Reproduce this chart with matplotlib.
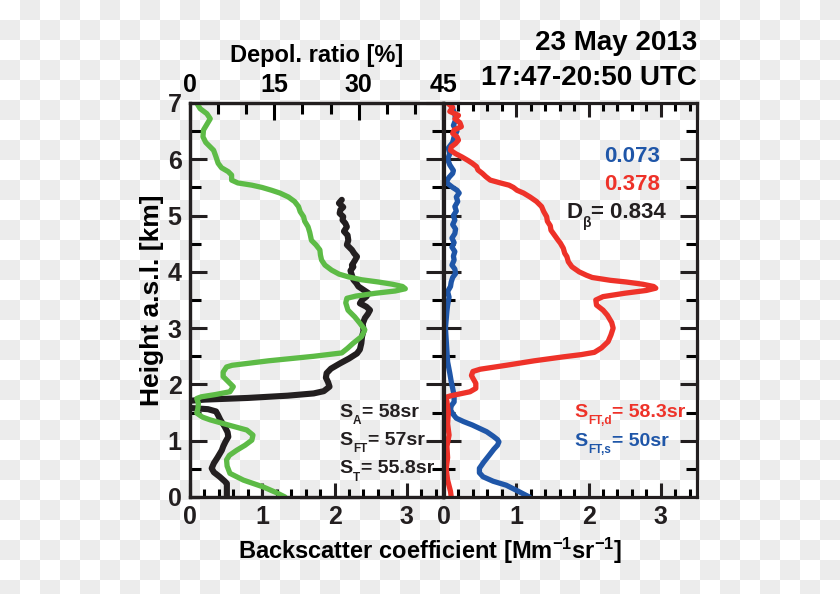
import numpy as np
import matplotlib
matplotlib.use("Agg")
import matplotlib.pyplot as plt
from matplotlib.ticker import MultipleLocator

plt.rcParams["font.family"] = ["Liberation Sans", "DejaVu Sans"]
plt.rcParams["font.weight"] = "bold"
plt.rcParams["mathtext.fontset"] = "custom"
plt.rcParams["mathtext.rm"] = "Liberation Sans:bold"
plt.rcParams["mathtext.it"] = "Liberation Sans:bold"
plt.rcParams["mathtext.bf"] = "Liberation Sans:bold"
plt.rcParams["mathtext.default"] = "rm"

# --- datos ---
# panel izquierdo: retrodispersión total (negro) y razón de despolarización (verde, %)
h_total = [5.28, 5.22, 5.15, 5.10, 5.04, 4.98, 4.92, 4.86, 4.80, 4.72, 4.65, 4.56, 4.48, 4.39,
           4.33, 4.27, 4.20, 4.12, 4.09, 4.02, 3.94, 3.86, 3.80, 3.74, 3.68, 3.62, 3.56, 3.50,
           3.44, 3.38, 3.32, 3.25, 3.18, 3.08, 2.95, 2.85, 2.73, 2.62, 2.55, 2.46, 2.37, 2.28,
           2.20, 2.12, 2.04, 1.96, 1.88, 1.84, 1.80, 1.76, 1.73, 1.70, 1.65, 1.60, 1.58, 1.56,
           1.52, 1.45, 1.37, 1.25, 1.15, 1.07, 0.98, 0.90, 0.83, 0.70, 0.60, 0.51, 0.44, 0.36,
           0.28, 0.24, 0.10, 0.0]
b_total = [2.10, 2.06, 2.12, 2.08, 2.07, 2.12, 2.11, 2.15, 2.17, 2.13, 2.18, 2.19, 2.17, 2.24,
           2.27, 2.31, 2.28, 2.24, 2.26, 2.22, 2.24, 2.26, 2.30, 2.33, 2.40, 2.47, 2.44, 2.38,
           2.35, 2.44, 2.49, 2.46, 2.42, 2.39, 2.40, 2.38, 2.37, 2.35, 2.31, 2.20, 2.07, 1.95,
           1.89, 1.88, 1.91, 1.93, 1.85, 1.71, 1.35, 0.80, 0.20, -0.10, -0.15, -0.05, 0.02, 0.25,
           0.36, 0.39, 0.42, 0.48, 0.52, 0.53, 0.49, 0.46, 0.44, 0.38, 0.33, 0.30, 0.33, 0.41,
           0.48, 0.51, 0.51, 0.51]

h_depol = [7.05, 6.90, 6.81, 6.72, 6.62, 6.52, 6.40, 6.30, 6.22, 6.16, 6.05, 5.93, 5.85, 5.78,
           5.72, 5.63, 5.58, 5.54, 5.50, 5.45, 5.40, 5.33, 5.25, 5.16, 5.07, 4.98, 4.90, 4.80,
           4.70, 4.56, 4.48, 4.39, 4.30, 4.21, 4.12, 4.03, 3.96, 3.91, 3.86, 3.82, 3.78, 3.74,
           3.70, 3.66, 3.62, 3.57, 3.53, 3.45, 3.32, 3.20, 3.09, 2.97, 2.85, 2.73, 2.64, 2.56,
           2.50, 2.42, 2.34, 2.31, 2.22, 2.14, 2.05, 1.96, 1.87, 1.82, 1.78, 1.75, 1.66, 1.57,
           1.49, 1.42, 1.37, 1.28, 1.19, 1.10, 1.01, 0.92, 0.83, 0.74, 0.66, 0.55, 0.42, 0.30,
           0.18, 0.08, 0.0]
depol = [0.9, 1.8, 3.0, 3.6, 3.0, 2.4, 2.3, 2.8, 3.6, 4.2, 4.6, 5.0, 5.6, 6.8,
         7.4, 7.4, 8.5, 11.0, 12.8, 14.5, 16.0, 17.5, 18.6, 19.3, 19.6, 20.2, 20.4, 21.0,
         21.3, 21.6, 22.4, 23.1, 23.2, 23.4, 24.0, 25.2, 26.5, 28.2, 30.5, 33.5, 36.0, 37.8,
         38.3, 36.5, 33.0, 29.5, 27.9, 27.7, 28.1, 29.3, 30.2, 31.1, 30.5, 29.0, 28.0, 27.0,
         22.0, 14.0, 7.5, 6.5, 5.9, 5.9, 6.8, 7.7, 7.1, 4.5, 2.0, 1.2, 1.5, 1.4,
         1.2, 2.2, 3.6, 6.8, 10.1, 11.2, 11.0, 9.8, 8.3, 7.0, 6.5, 6.6, 7.1, 9.5,
         13.0, 15.3, 16.9]

# panel derecho: polvo (rojo) y humo (azul)
h_dust = [7.0, 6.92, 6.85, 6.78, 6.72, 6.65, 6.58, 6.52, 6.46, 6.40, 6.34, 6.28, 6.22, 6.16,
          6.10, 6.04, 5.98, 5.93, 5.87, 5.81, 5.75, 5.69, 5.63, 5.58, 5.54, 5.50, 5.45, 5.40,
          5.33, 5.25, 5.16, 5.07, 4.98, 4.90, 4.82, 4.74, 4.65, 4.56, 4.51, 4.42, 4.33, 4.27,
          4.18, 4.09, 4.00, 3.94, 3.90, 3.85, 3.82, 3.78, 3.74, 3.71, 3.67, 3.62, 3.56, 3.50,
          3.41, 3.32, 3.23, 3.10, 3.00, 2.88, 2.76, 2.65, 2.57, 2.53, 2.49, 2.42, 2.34, 2.27,
          2.23, 2.16, 2.11, 2.02, 1.93, 1.87, 1.84, 1.80, 1.77, 1.70, 1.50, 1.30, 1.10, 0.90,
          0.70, 0.50, 0.30, 0.10, 0.0]
b_dust = [0.05, 0.12, 0.08, 0.20, 0.15, 0.22, 0.24, 0.14, 0.12, 0.18, 0.20, 0.16, 0.10, 0.09,
          0.16, 0.25, 0.33, 0.39, 0.45, 0.47, 0.53, 0.58, 0.64, 0.78, 0.90, 0.96, 1.01, 1.10,
          1.19, 1.28, 1.35, 1.38, 1.42, 1.43, 1.47, 1.48, 1.53, 1.58, 1.61, 1.65, 1.67, 1.70,
          1.72, 1.77, 1.87, 1.97, 2.05, 2.30, 2.52, 2.75, 2.90, 2.93, 2.80, 2.50, 2.20, 2.10,
          2.11, 2.20, 2.26, 2.32, 2.34, 2.31, 2.27, 2.18, 2.08, 1.90, 1.65, 1.25, 0.86, 0.50,
          0.40, 0.38, 0.40, 0.44, 0.44, 0.36, 0.25, 0.10, 0.02, 0.04, 0.06, 0.05, 0.07, 0.04,
          0.05, 0.03, 0.05, 0.09, 0.10]

h_smoke = [7.0, 6.90, 6.80, 6.70, 6.60, 6.50, 6.40, 6.30, 6.20, 6.10, 6.00, 5.90, 5.80, 5.75,
           5.68, 5.62, 5.57, 5.50, 5.45, 5.40, 5.33, 5.25, 5.16, 5.08, 5.00, 4.92, 4.84, 4.76,
           4.68, 4.60, 4.52, 4.44, 4.36, 4.28, 4.21, 4.12, 4.05, 3.97, 3.90, 3.82, 3.74, 3.65,
           3.55, 3.41, 3.30, 3.15, 3.00, 2.80, 2.60, 2.40, 2.20, 2.05, 1.93, 1.80, 1.69, 1.62,
           1.55, 1.48, 1.40, 1.34, 1.28, 1.22, 1.16, 1.08, 1.02, 0.98, 0.92, 0.85, 0.75, 0.62,
           0.51, 0.43, 0.36, 0.28, 0.21, 0.12, 0.0]
b_smoke = [0.09, 0.12, 0.15, 0.16, 0.13, 0.18, 0.14, 0.12, 0.06, 0.08, 0.05, 0.08, 0.13, 0.12,
           0.07, 0.04, 0.05, 0.12, 0.18, 0.21, 0.17, 0.19, 0.15, 0.17, 0.13, 0.15, 0.12, 0.16,
           0.15, 0.11, 0.14, 0.11, 0.15, 0.13, 0.14, 0.11, 0.15, 0.16, 0.12, 0.10, 0.09, 0.05,
           0.07, 0.05, 0.04, 0.03, 0.02, 0.03, 0.04, 0.05, 0.08, 0.10, 0.12, 0.14, 0.14, 0.10,
           0.09, 0.12, 0.17, 0.27, 0.39, 0.49, 0.59, 0.68, 0.74, 0.76, 0.74, 0.69, 0.63, 0.55,
           0.49, 0.49, 0.54, 0.68, 0.86, 1.00, 1.18]

VERDE = "#5dbb46"
NEGRO = "#231f20"
ROJO = "#ee3229"
AZUL = "#1f56a8"


def etiqueta(ax, x, y, base, sub, resto, color, fs=14, fs_sub=8.5, bajada=4.5):
    # texto con subíndice bajo la línea base, como en la figura original
    t1 = ax.text(x, y, base, fontsize=fs, color=color, ha="left", va="baseline")
    t2 = ax.annotate(sub, xy=(1, 0), xycoords=t1, xytext=(0.3, -bajada),
                     textcoords="offset points", fontsize=fs_sub, color=color,
                     ha="left", va="bottom")
    ax.annotate(resto, xy=(1, 0), xycoords=(t2, t1), xytext=(0.3, 0),
                textcoords="offset points", fontsize=fs, color=color,
                ha="left", va="bottom")


fig = plt.figure(figsize=(8.4, 5.94), dpi=100)

# fondo a cuadros (transparencia en la imagen original)
filas, cols = np.indices((594, 840))
fondo = np.where(((filas // 20) + (cols // 20)) % 2 == 1, 236, 255).astype(np.uint8)
fig.figimage(np.dstack([fondo, fondo, fondo]), 0, 0, origin="upper", zorder=-10)

ax1 = fig.add_axes([190 / 840, 97 / 594, 253 / 840, 394 / 594])
ax2 = fig.add_axes([444 / 840, 97 / 594, 253 / 840, 394 / 594], sharey=ax1)
ax1t = ax1.twiny()

for ax in (ax1, ax2, ax1t):
    ax.patch.set_alpha(0)
    for s in ax.spines.values():
        s.set_linewidth(2.3)
        s.set_color(NEGRO)

lw = 3.8
ax1.plot(b_total, h_total, color=NEGRO, lw=lw + 0.6, solid_joinstyle="round", solid_capstyle="round")
ax1t.plot(depol, h_depol, color=VERDE, lw=lw, solid_joinstyle="round", solid_capstyle="round")
ax2.plot(b_smoke, h_smoke, color=AZUL, lw=lw, solid_joinstyle="round", solid_capstyle="round")
ax2.plot(b_dust, h_dust, color=ROJO, lw=lw, solid_joinstyle="round", solid_capstyle="round")

ax1.set_ylim(0, 7)
ax1.set_xlim(0, 3.5)
ax2.set_xlim(0, 3.5)
ax1t.set_xlim(0, 45)

for ax in (ax1, ax2):
    ax.xaxis.set_major_locator(MultipleLocator(1))
    ax.xaxis.set_minor_locator(MultipleLocator(0.2))
    ax.yaxis.set_major_locator(MultipleLocator(1))
    ax.yaxis.set_minor_locator(MultipleLocator(0.5))
    ax.tick_params(axis="y", which="major", direction="in", length=12, width=2.2, left=True, right=True)
    ax.tick_params(axis="y", which="minor", direction="in", length=8, width=2.2, left=True, right=True)
    ax.tick_params(axis="x", which="major", direction="in", length=10, width=2.2, bottom=True)
    ax.tick_params(axis="x", which="minor", direction="in", length=6, width=2.2, bottom=True)
    ax.tick_params(labelsize=18, pad=6, colors=NEGRO)

ax2.tick_params(axis="x", which="both", top=True)
ax2.tick_params(axis="y", which="both", labelleft=False)
ax1.tick_params(axis="x", which="both", top=False)

ax1t.xaxis.set_major_locator(MultipleLocator(15))
ax1t.xaxis.set_minor_locator(MultipleLocator(5))
ax1t.tick_params(axis="x", which="major", direction="in", length=12, width=2.2, labelsize=18, pad=4)
ax1t.tick_params(axis="x", which="minor", direction="in", length=8, width=2.2)
ax1t.set_xlabel("Depol. ratio [%]", fontsize=17, fontweight="bold", labelpad=8)

ax1.set_ylabel("Height a.s.l. [km]", fontsize=19, fontweight="bold", labelpad=3)
fig.text(430 / 840, 1 - 551 / 594, r"Backscatter coefficient [Mm$^{-1}$sr$^{-1}$]",
         fontsize=17, fontweight="bold", ha="center", va="center")

fig.text(697 / 840, 1 - 43 / 594, "23 May 2013", fontsize=20, fontweight="bold", ha="right", va="center")
fig.text(697 / 840, 1 - 78 / 594, "17:47-20:50 UTC", fontsize=20, fontweight="bold", ha="right", va="center")

# razones lidar
etiqueta(ax1, 2.07, 1.43, "S", "A", "= 58sr", NEGRO)
etiqueta(ax1, 2.07, 0.92, "S", "FT", "= 57sr", NEGRO)
etiqueta(ax1, 2.07, 0.42, "S", "T", "= 55.8sr", NEGRO)

etiqueta(ax2, 1.81, 1.43, "S", "FT,d", "= 58.3sr", ROJO)
etiqueta(ax2, 1.81, 0.91, "S", "FT,s", "= 50sr", AZUL)

ax2.text(2.99, 5.96, "0.073", fontsize=16, va="baseline", ha="right", color=AZUL)
ax2.text(2.99, 5.45, "0.378", fontsize=16, va="baseline", ha="right", color=ROJO)
etiqueta(ax2, 1.69, 4.95, "D", "\u03b2", "= 0.834", NEGRO, fs=16, fs_sub=10, bajada=5)

fig.savefig("out.png", dpi=100, facecolor="white")
